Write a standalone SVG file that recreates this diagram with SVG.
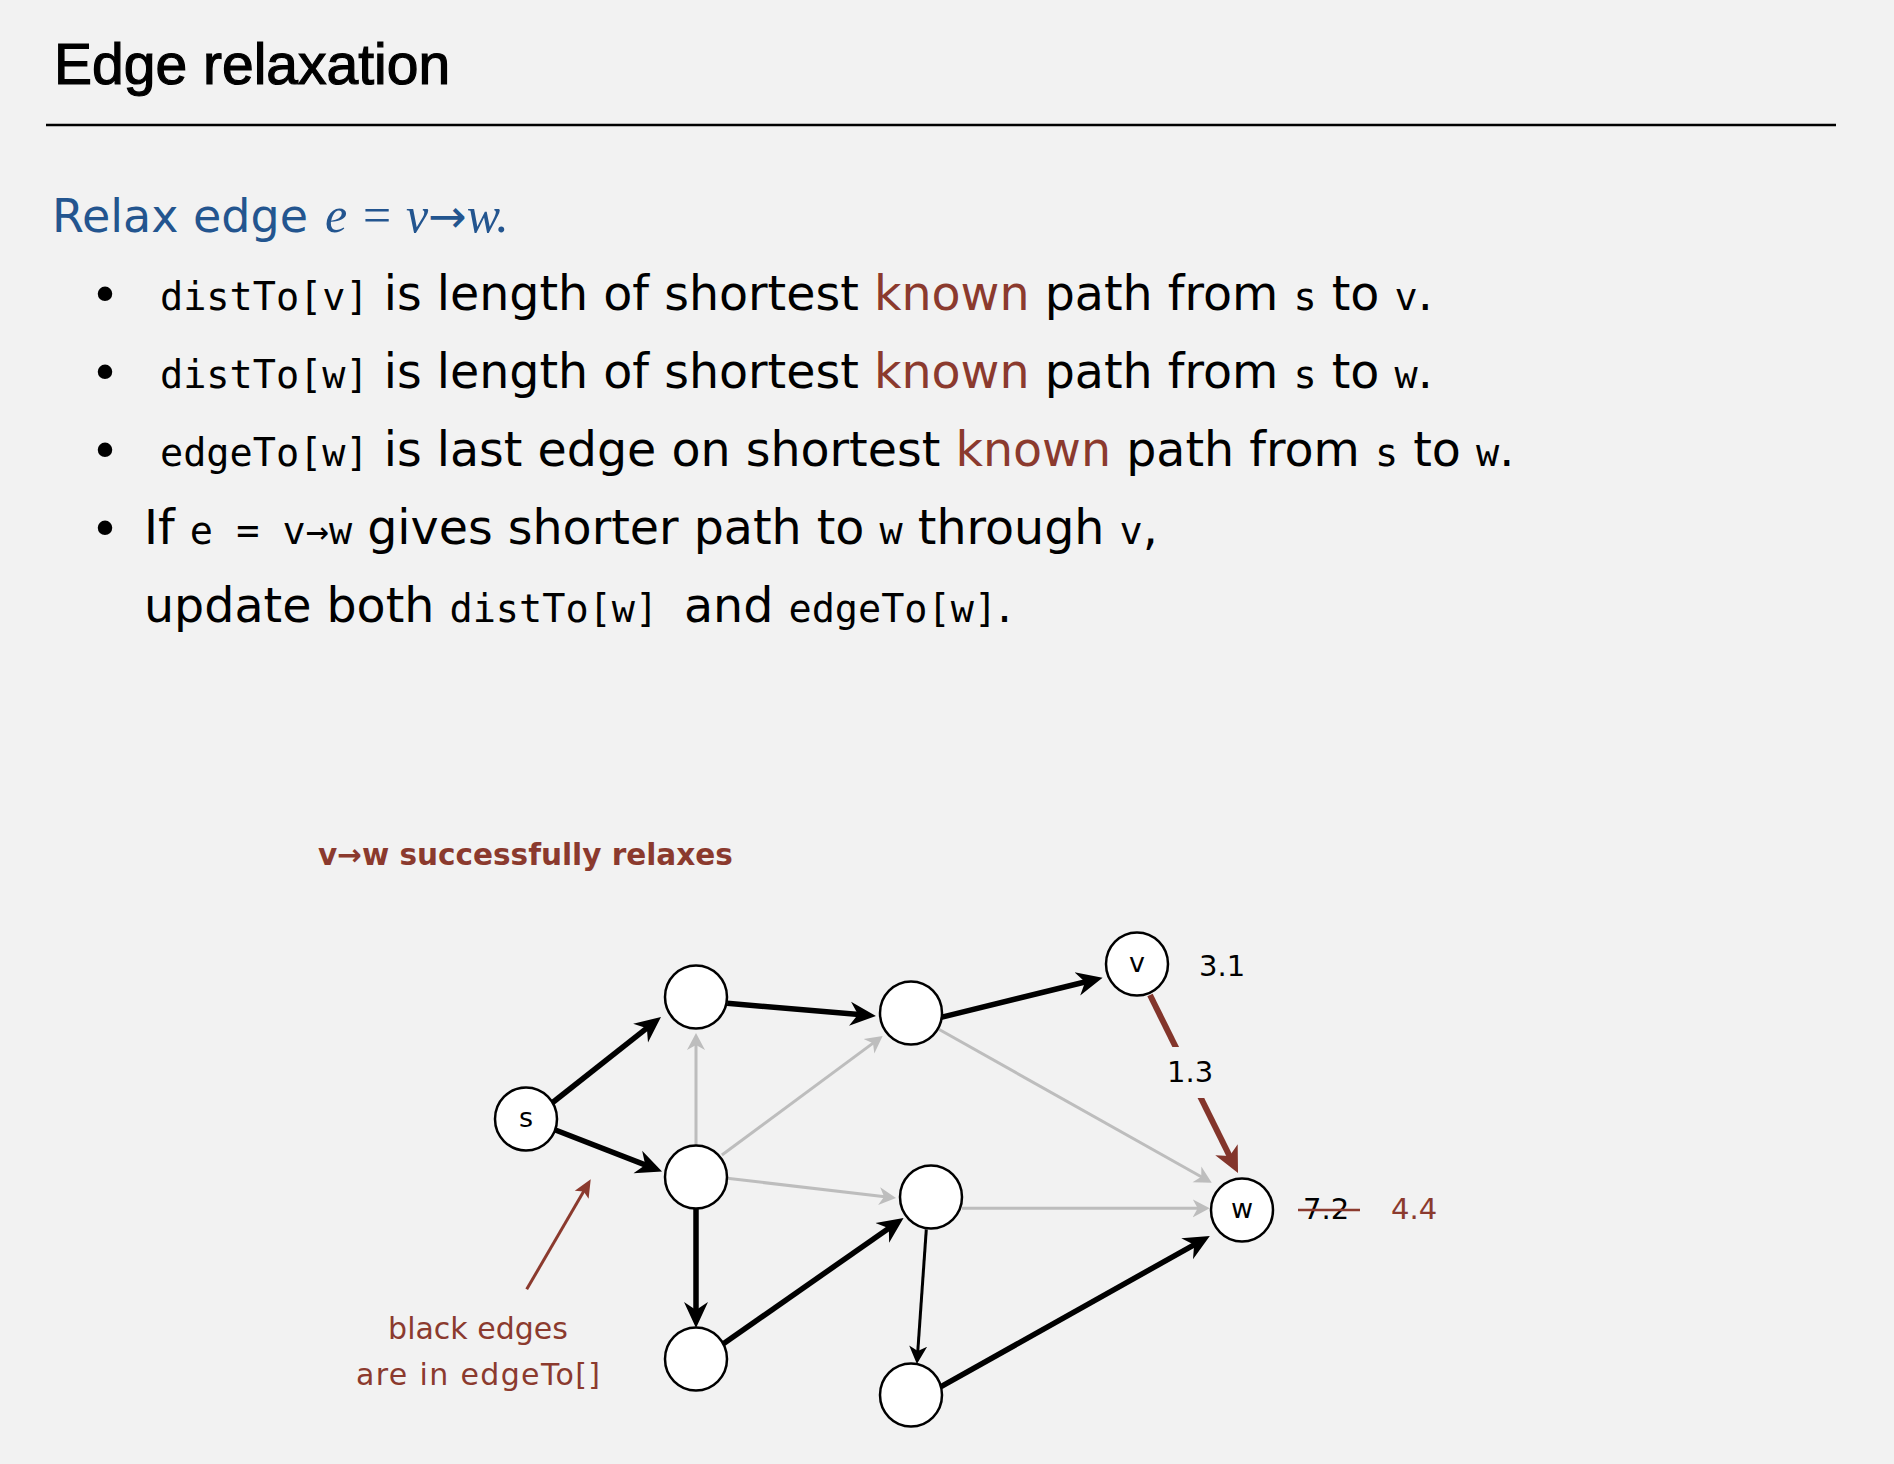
<svg xmlns="http://www.w3.org/2000/svg" width="1894" height="1464" viewBox="0 0 1894 1464">
  <style>
    .title { font-family: "Liberation Sans", Arial, sans-serif; font-size: 57px; fill: #000; stroke: #000; stroke-width: 1.2px; }
    .body { font-family: "DejaVu Sans", "Noto Sans", sans-serif; font-size: 47.5px; fill: #000; }
    .mono { font-family: "DejaVu Sans Mono", "Liberation Mono", monospace; font-size: 38.5px; }
    .blue { fill: #23558f; }
    .serif-it { font-family: "Liberation Serif", "DejaVu Serif", serif; font-style: italic; }
    .bullet { font-family: "DejaVu Sans", sans-serif; font-size: 50px; fill: #000; text-anchor: middle; }
    .node { fill: #fff; stroke: #000; stroke-width: 2.5; }
    .nlabel { font-family: "DejaVu Sans", sans-serif; font-size: 27px; fill: #000; text-anchor: middle; }
    .num { font-family: "DejaVu Sans", sans-serif; font-size: 29px; fill: #000; }
    .note { font-family: "DejaVu Sans", sans-serif; font-size: 30px; fill: #8b3a2e; text-anchor: middle; }
    .red { fill: #8b3a2e; }
    .heavy { stroke: #000; stroke-width: 5.5; fill: none; marker-end: url(#headK); }
    .thin { stroke: #000; stroke-width: 3; fill: none; marker-end: url(#headT); }
    .gray { stroke: #bdbdbd; stroke-width: 3; fill: none; marker-end: url(#headG); }
    .relax { stroke: #83352b; stroke-width: 6; fill: none; marker-end: url(#headR); }
    .pointer { stroke: #8b3a2e; stroke-width: 3; fill: none; marker-end: url(#headA); }
  </style>
  <defs>
    <marker id="headK" markerUnits="userSpaceOnUse" viewBox="0 -13 27 26" markerWidth="27" markerHeight="26" refX="12" refY="0" orient="auto">
      <path d="M0,-12 L26,0 L0,12 L8,0 Z" fill="#000"/>
    </marker>
    <marker id="headT" markerUnits="userSpaceOnUse" viewBox="0 -10 19 20" markerWidth="19" markerHeight="20" refX="8" refY="0" orient="auto">
      <path d="M0,-9 L18,0 L0,9 L5,0 Z" fill="#000"/>
    </marker>
    <marker id="headG" markerUnits="userSpaceOnUse" viewBox="0 -10 19 20" markerWidth="19" markerHeight="20" refX="8" refY="0" orient="auto">
      <path d="M0,-9 L17,0 L0,9 L5,0 Z" fill="#bdbdbd"/>
    </marker>
    <marker id="headR" markerUnits="userSpaceOnUse" viewBox="0 -14 27 28" markerWidth="27" markerHeight="28" refX="12" refY="0" orient="auto">
      <path d="M0,-12.5 L26,0 L0,12.5 L7,0 Z" fill="#83352b"/>
    </marker>
    <marker id="headA" markerUnits="userSpaceOnUse" viewBox="0 -9 19 18" markerWidth="19" markerHeight="18" refX="7" refY="0" orient="auto">
      <path d="M0,-8 L18,0 L0,8 L4,0 Z" fill="#8b3a2e"/>
    </marker>
    <!-- leaves a gap in the relaxed edge for its weight label -->
    <clipPath id="weightGap">
      <rect x="0" y="0" width="1894" height="1047"/>
      <rect x="0" y="1098" width="1894" height="366"/>
    </clipPath>
  </defs>

  <rect x="0" y="0" width="1894" height="1464" fill="#f2f2f2"/>

  <!-- heading -->
  <text class="title" x="54" y="84">Edge relaxation</text>
  <line x1="46" y1="125" x2="1836" y2="125" stroke="#000" stroke-width="2.5"/>

  <!-- text block -->
  <text class="body blue" x="52" y="232" font-size="46" style="font-size:46px">Relax edge <tspan class="serif-it" x="325" font-size="50" style="font-size:50px">e = v</tspan><tspan font-family="DejaVu Sans, sans-serif" font-size="46">→</tspan><tspan class="serif-it" font-size="50" style="font-size:50px">w.</tspan></text>

  <text class="bullet" x="105" y="312">•</text>
  <text class="body" x="160" y="310"><tspan class="mono">distTo[v]</tspan> is length of shortest <tspan class="red">known</tspan> path from <tspan class="mono">s</tspan> to <tspan class="mono">v</tspan>.</text>

  <text class="bullet" x="105" y="390">•</text>
  <text class="body" x="160" y="388"><tspan class="mono">distTo[w]</tspan> is length of shortest <tspan class="red">known</tspan> path from <tspan class="mono">s</tspan> to <tspan class="mono">w</tspan>.</text>

  <text class="bullet" x="105" y="468">•</text>
  <text class="body" x="160" y="466"><tspan class="mono">edgeTo[w]</tspan> is last edge on shortest <tspan class="red">known</tspan> path from <tspan class="mono">s</tspan> to <tspan class="mono">w</tspan>.</text>

  <text class="bullet" x="105" y="546">•</text>
  <text class="body" x="144" y="544">If <tspan class="mono">e = v→w</tspan> gives shorter path to <tspan class="mono">w</tspan> through <tspan class="mono">v</tspan>,</text>

  <text class="body" x="144" y="622">update both <tspan class="mono">distTo[w]</tspan><tspan x="684">and </tspan><tspan class="mono">edgeTo[w]</tspan>.</text>

  <!-- diagram caption -->
  <text x="318" y="865" font-family="DejaVu Sans, sans-serif" font-size="29.5" font-weight="bold" fill="#8b3a2e">v→w successfully relaxes</text>

  <!-- connectors -->
  <g id="edges">
    <!-- edges not in edgeTo[] -->
    <line class="gray" x1="696" y1="1146" x2="696" y2="1042"/>
    <line class="gray" x1="721.9" y1="1155" x2="875.4" y2="1041.4"/>
    <line class="gray" x1="727.2" y1="1178.3" x2="887.1" y2="1197"/>
    <line class="gray" x1="938.8" y1="1029.3" x2="1203.9" y2="1178.3"/>
    <line class="gray" x1="962" y1="1208.3" x2="1200.7" y2="1208.3"/>
    <!-- edgeTo[] edges -->
    <line class="heavy" x1="552" y1="1103" x2="650" y2="1025.7"/>
    <line class="heavy" x1="555.4" y1="1130" x2="649" y2="1166.4"/>
    <line class="heavy" x1="727.2" y1="1003.3" x2="862" y2="1014.8"/>
    <line class="heavy" x1="941" y1="1017.3" x2="1089" y2="981"/>
    <line class="heavy" x1="696" y1="1208" x2="696" y2="1314"/>
    <line class="heavy" x1="723" y1="1344" x2="892.1" y2="1226"/>
    <line class="thin" x1="926.3" y1="1229.3" x2="917.6" y2="1354"/>
    <line class="heavy" x1="941" y1="1386.7" x2="1197.6" y2="1242.8"/>
    <!-- the edge being relaxed -->
    <line class="relax" x1="1150" y1="995" x2="1231.8" y2="1160.5" clip-path="url(#weightGap)"/>
    <!-- callout pointer -->
    <line class="pointer" x1="526.7" y1="1289.3" x2="585.2" y2="1188.8"/>
  </g>

  <!-- vertices -->
  <g id="node-s"><ellipse class="node" cx="526" cy="1119" rx="31" ry="31.5"/><text class="nlabel" x="526" y="1127">s</text></g>
  <g id="node-a"><ellipse class="node" cx="696" cy="997" rx="31" ry="31.5"/></g>
  <g id="node-b"><ellipse class="node" cx="696" cy="1177" rx="31" ry="31.5"/></g>
  <g id="node-c"><ellipse class="node" cx="911" cy="1013" rx="31" ry="31.5"/></g>
  <g id="node-d"><ellipse class="node" cx="931" cy="1197" rx="31" ry="31.5"/></g>
  <g id="node-e"><ellipse class="node" cx="696" cy="1359" rx="31" ry="31.5"/></g>
  <g id="node-f"><ellipse class="node" cx="911" cy="1395" rx="31" ry="31.5"/></g>
  <g id="node-v"><ellipse class="node" cx="1137" cy="964" rx="31" ry="31.5"/><text class="nlabel" x="1137" y="972">v</text></g>
  <g id="node-w"><ellipse class="node" cx="1242" cy="1210" rx="31" ry="31.5"/><text class="nlabel" x="1242" y="1218">w</text></g>

  <!-- distances and weight -->
  <text class="num" x="1199" y="976">3.1</text>
  <text class="num" x="1167" y="1082">1.3</text>
  <text class="num" x="1303" y="1219">7.2</text>
  <line x1="1298" y1="1210" x2="1360" y2="1210" stroke="#8b3a2e" stroke-width="2.5"/>
  <text class="num" x="1391" y="1219" fill="#8b3a2e" style="fill:#8b3a2e">4.4</text>

  <!-- callout -->
  <text class="note" x="478" y="1339">black edges</text>
  <text class="note" x="478" y="1385" textLength="244" lengthAdjust="spacing">are in edgeTo[]</text>
</svg>
